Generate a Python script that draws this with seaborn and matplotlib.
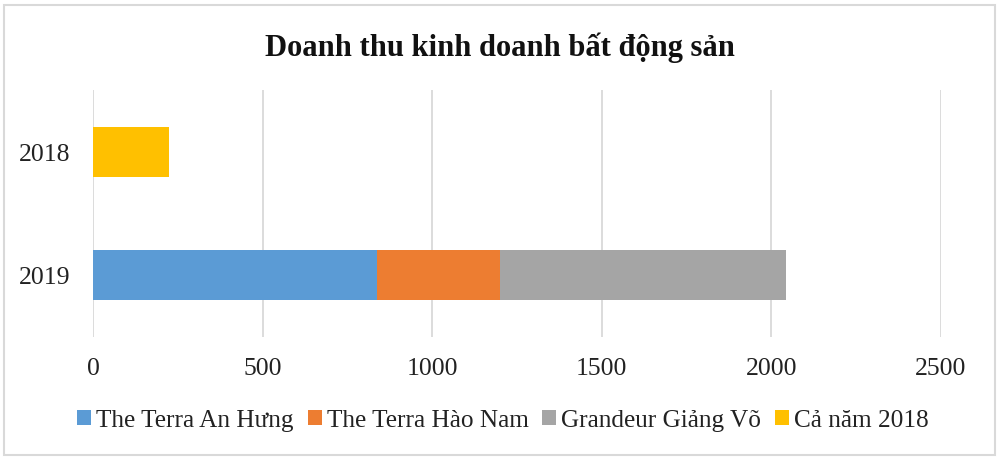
import matplotlib
matplotlib.use("Agg")
import matplotlib.pyplot as plt
import seaborn as sns
import pandas as pd
import numpy as np
from matplotlib.patches import Patch, Rectangle

years = ["2018", "2019"]
series_names = ["The Terra An Hưng", "The Terra Hào Nam", "Grandeur Giảng Võ", "Cả năm 2018"]
an_hung = [0, 838]
hao_nam = [0, 362]
grandeur = [0, 844]
ca_nam_2018 = [224, 0]
x_ticks = [0, 500, 1000, 1500, 2000, 2500]
title = "Doanh thu kinh doanh bất động sản"

colors = ["#5B9BD5", "#ED7D31", "#A5A5A5", "#FFC000"]

sns.set_theme(style="white")
plt.rcParams["font.family"] = ["Liberation Serif", "DejaVu Serif"]

df = pd.DataFrame({
    "year": years,
    "an_hung": an_hung,
    "hao_nam": hao_nam,
    "grandeur": grandeur,
    "ca_nam": ca_nam_2018,
})
df["c1"] = df["an_hung"]
df["c2"] = df["c1"] + df["hao_nam"]
df["c3"] = df["c2"] + df["grandeur"]

fig = plt.figure(figsize=(10, 4.6), dpi=100)
ax = fig.add_axes([0.093, 0.2663, 0.848, 0.5348])

ax.set_axisbelow(True)
ax.grid(axis="x", color="#D9D9D9", linewidth=1.3)
ax.grid(axis="y", visible=False)

for col, c in [("c3", colors[2]), ("c2", colors[1]), ("c1", colors[0]), ("ca_nam", colors[3])]:
    sns.barplot(data=df, y="year", x=col, order=years, orient="h", color=c,
                width=0.4, saturation=1, errorbar=None, ax=ax, linewidth=0)

ax.set_xlim(0, 2500)
ax.set_ylim(1.5, -0.5)
ax.set_xticks(x_ticks)
ax.set_xticklabels([str(t) for t in x_ticks])
ax.set_xlabel("")
ax.set_ylabel("")
for s in ax.spines.values():
    s.set_visible(False)
ax.tick_params(axis="x", length=0, labelsize=18.5, pad=15, colors="#222222")
ax.tick_params(axis="y", length=0, labelsize=18.5, pad=16, colors="#222222")

fig.suptitle(title, x=0.5, y=0.93, fontsize=22, fontweight="bold", color="#111111")

handles = [Patch(facecolor=c, edgecolor="none", label=n) for c, n in zip(colors, series_names)]
leg = fig.legend(handles=handles, loc="center", bbox_to_anchor=(0.503, 0.084), ncol=4,
                 frameon=False, fontsize=18.2, handlelength=0.55, handleheight=0.55,
                 handletextpad=0.2, columnspacing=0.55)
for t in leg.get_texts():
    t.set_color("#222222")

fig.patches.append(Rectangle((0.004, 0.009), 0.991, 0.978, transform=fig.transFigure,
                             fill=False, edgecolor="#D9D9D9", linewidth=1.5))

fig.savefig("out.png", dpi=100)
